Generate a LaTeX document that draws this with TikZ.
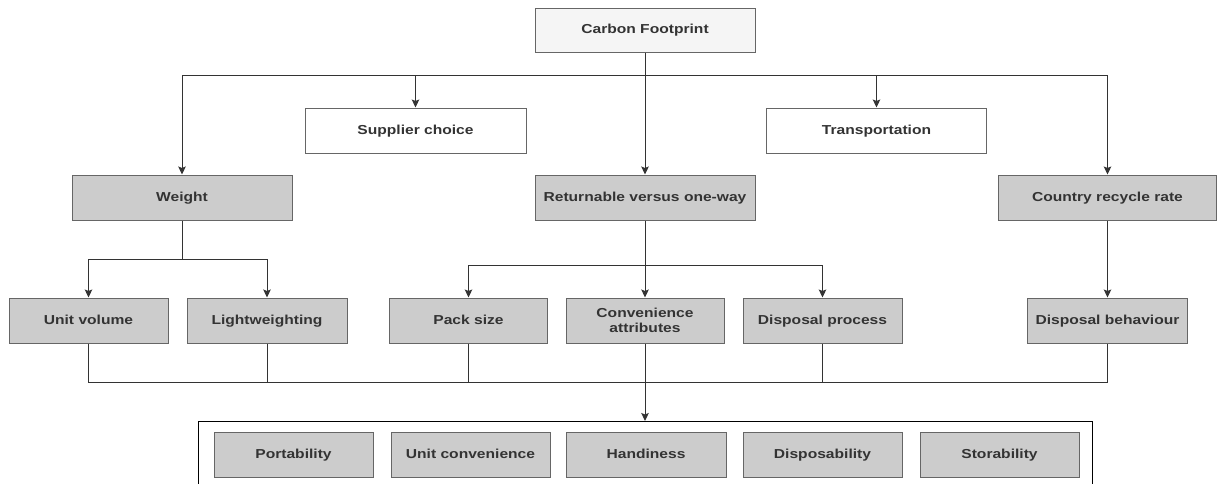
\documentclass[tikz,border=0pt]{standalone}
\usepackage{fontspec}
\setmainfont{Liberation Sans}[FakeStretch=1.2]
\usetikzlibrary{arrows.meta}
\definecolor{boxgray}{HTML}{CCCCCC}
\definecolor{edgegray}{HTML}{666666}
\definecolor{wirecol}{HTML}{333333}
\definecolor{ink}{HTML}{333333}
\definecolor{topfill}{HTML}{F5F5F5}
\begin{document}
\begin{tikzpicture}[x=1pt,y=-1pt,
  base/.style={draw=edgegray, line width=1pt, inner sep=0pt, minimum height=45pt,
    align=center, text=ink, font=\bfseries\fontsize{13}{14.5}\selectfont,
    text height=10pt, text depth=3pt},
  plainbox/.style={base, fill=white},
  shaded/.style={base, fill=boxgray},
  twoline/.style={shaded, text height=, text depth=},
  wire/.style={draw=wirecol, line width=1pt},
  arr/.style={wire, -{Stealth[length=8pt,width=7.5pt,inset=1.5pt]}},
]
\clip (0,0) rectangle (1217,483);
\fill[white] (0,0) rectangle (1217,483);

% top level
\node[base, fill=topfill, minimum width=220pt, minimum height=44pt] (cf) at (645,30) {Carbon Footprint};

% first level
\node[plainbox, minimum width=221pt] (sup)   at (415.5,130.5) {Supplier choice};
\node[plainbox, minimum width=220pt] (trans) at (876.5,130.5) {Transportation};
\node[shaded, minimum width=220pt] (wt)  at (182,197.5)    {Weight};
\node[shaded, minimum width=220pt] (ret) at (645,197.5)    {Returnable versus one-way};
\node[shaded, minimum width=218pt] (crr) at (1107.5,197.5) {Country recycle rate};

% second level
\node[shaded, minimum width=159pt] (uv) at (88.5,320.5)  {Unit volume};
\node[shaded, minimum width=160pt] (lw) at (267,320.5)   {Lightweighting};
\node[shaded, minimum width=158pt] (ps) at (468.5,320.5) {Pack size};
\node[twoline, minimum width=158pt] (ca) at (645,320.5)  {Convenience\\attributes};
\node[shaded, minimum width=159pt] (dp) at (822.5,320.5) {Disposal process};
\node[shaded, minimum width=160pt] (db) at (1107.5,320.5){Disposal behaviour};

% attribute frame
\node[draw=black, line width=1pt, minimum width=894pt, minimum height=90pt, inner sep=0pt,
      anchor=north] (frame) at (645,421) {};
\node[shaded, minimum width=159pt] (port)  at (293.5,454.5) {Portability};
\node[shaded, minimum width=159pt] (uconv) at (470.5,454.5) {Unit convenience};
\node[shaded, minimum width=160pt] (hand)  at (646,454.5)   {Handiness};
\node[shaded, minimum width=159pt] (disp)  at (822.5,454.5) {Disposability};
\node[shaded, minimum width=159pt] (stor)  at (999.5,454.5) {Storability};

% bus levels
\coordinate (bus)  at (645,75);
\coordinate (wbus) at (182,259);
\coordinate (rbus) at (645,265);
\coordinate (bbus) at (645,382);

% top fan-out
\draw[arr] (cf.south) -- (ret.north);
\draw[wire] (bus -| wt.north) -- (bus -| crr.north);
\draw[arr] (bus -| wt.north) -- (wt.north);
\draw[arr] (bus -| sup.north) -- (sup.north);
\draw[arr] (bus -| trans.north) -- (trans.north);
\draw[arr] (bus -| crr.north) -- (crr.north);

% weight branch
\draw[wire] (wt.south) -- (wbus);
\draw[wire] (wbus -| uv.north) -- (wbus -| lw.north);
\draw[arr] (wbus -| uv.north) -- (uv.north);
\draw[arr] (wbus -| lw.north) -- (lw.north);

% returnable branch
\draw[arr] (ret.south) -- (ca.north);
\draw[wire] (rbus -| ps.north) -- (rbus -| dp.north);
\draw[arr] (rbus -| ps.north) -- (ps.north);
\draw[arr] (rbus -| dp.north) -- (dp.north);

% recycle branch
\draw[arr] (crr.south) -- (db.north);

% collecting bus into the frame
\draw[wire] (uv.south) |- (bbus -| db.south) -- (db.south);
\draw[wire] (lw.south) -- (bbus -| lw.south);
\draw[wire] (ps.south) -- (bbus -| ps.south);
\draw[wire] (dp.south) -- (bbus -| dp.south);
\draw[arr] (ca.south) -- (frame.north);
\end{tikzpicture}
\end{document}
